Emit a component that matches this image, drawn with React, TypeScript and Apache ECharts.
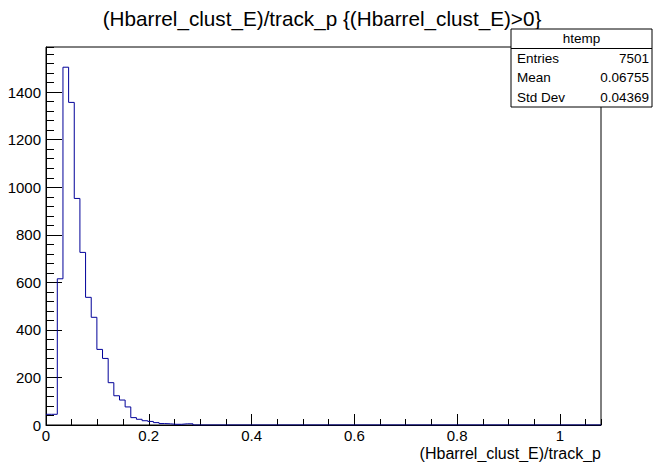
import React, { useEffect, useRef } from "react";
import * as echarts from "echarts";

// ---- data ----
const BIN_WIDTH = 0.011;
const binCounts = [
  45, 45, 615, 1505, 1357, 953, 726, 537, 453, 318, 280, 178, 123, 105, 76,
  31, 24, 18, 15, 10, 6, 5, 3, 3, 5, 5,
];
const xTickLabels = ["0", "0.2", "0.4", "0.6", "0.8", "1"];
const yTickLabels = ["0", "200", "400", "600", "800", "1000", "1200", "1400"];
const statsTitle = "htemp";
const statsLabels = ["Entries", "Mean", "Std Dev"];
const statsValues = ["7501", "0.06755", "0.04369"];
const chartTitle = "(Hbarrel_clust_E)/track_p {(Hbarrel_clust_E)>0}";
const xAxisTitle = "(Hbarrel_clust_E)/track_p";

const X_MAX = 1.08;
const Y_MAX = 1590;
const FONT = '"Liberation Sans", Arial, Helvetica, sans-serif';

export default function App() {
  const ref = useRef<HTMLDivElement>(null);

  useEffect(() => {
    if (!ref.current) return;
    const chart = echarts.init(ref.current, undefined, { renderer: "svg" });

    const points: number[][] = binCounts.map((c, i) => [i * BIN_WIDTH, c]);
    points.push([binCounts.length * BIN_WIDTH, 0]);
    points.push([X_MAX, 0]);

    const gridLeft = 46;
    const gridRight = 601;
    const gridTop = 47;
    const gridBottom = 425;

    const boxX = 511;
    const boxY = 29;
    const boxW = 141;
    const boxH = 78;
    const rowH = boxH / 4;

    const statsGraphics: any[] = [
      {
        type: "rect",
        shape: { x: boxX, y: boxY, width: boxW, height: boxH },
        style: { fill: "#fff", stroke: "#000", lineWidth: 1 },
        z: 10,
      },
      {
        type: "line",
        shape: { x1: boxX, y1: boxY + rowH, x2: boxX + boxW, y2: boxY + rowH },
        style: { stroke: "#000", lineWidth: 1 },
        z: 11,
      },
      {
        type: "text",
        x: boxX + boxW / 2,
        y: boxY + rowH / 2,
        style: {
          text: statsTitle,
          font: `13.5px ${FONT}`,
          fill: "#000",
          align: "center",
          verticalAlign: "middle",
        },
        z: 11,
      },
    ];
    statsLabels.forEach((lab, i) => {
      const cy = boxY + rowH * (i + 1.5);
      statsGraphics.push({
        type: "text",
        x: boxX + 6,
        y: cy,
        style: { text: lab, font: `13.5px ${FONT}`, fill: "#000", align: "left", verticalAlign: "middle" },
        z: 11,
      });
      statsGraphics.push({
        type: "text",
        x: boxX + boxW - 3,
        y: cy,
        style: { text: statsValues[i], font: `13.5px ${FONT}`, fill: "#000", align: "right", verticalAlign: "middle" },
        z: 11,
      });
    });

    chart.setOption({
      animation: false,
      backgroundColor: "#fff",
      grid: {
        left: gridLeft,
        right: 654 - gridRight,
        top: gridTop,
        bottom: 462 - gridBottom,
        show: true,
        borderColor: "#000",
        borderWidth: 1,
        backgroundColor: "transparent",
      },
      xAxis: [
        {
          type: "value",
          min: 0,
          max: X_MAX,
          interval: 0.2,
          axisLine: { show: true, lineStyle: { color: "#000", width: 1 } },
          axisTick: { show: true, inside: true, length: 11, lineStyle: { color: "#000" } },
          axisLabel: {
            show: true,
            showMaxLabel: false,
            margin: 3,
            color: "#000",
            fontFamily: FONT,
            fontSize: 15,
            formatter: (v: number) => {
              const idx = Math.round(v / 0.2);
              return Math.abs(v - idx * 0.2) < 1e-6 && xTickLabels[idx] !== undefined ? xTickLabels[idx] : "";
            },
          },
          splitLine: { show: false },
        },
        {
          type: "value",
          position: "bottom",
          min: 0,
          max: X_MAX,
          interval: 0.05,
          axisLine: { show: false },
          axisTick: { show: true, inside: true, length: 6, lineStyle: { color: "#000" } },
          axisLabel: { show: false },
          splitLine: { show: false },
        },
      ],
      yAxis: [
        {
          type: "value",
          min: 0,
          max: Y_MAX,
          interval: 200,
          axisLine: { show: true, lineStyle: { color: "#000", width: 1 } },
          axisTick: { show: true, inside: true, length: 16, lineStyle: { color: "#000" } },
          axisLabel: {
            show: true,
            showMaxLabel: false,
            margin: 5,
            color: "#000",
            fontFamily: FONT,
            fontSize: 15,
            formatter: (v: number) => {
              const idx = Math.round(v / 200);
              return Math.abs(v - idx * 200) < 1e-6 && yTickLabels[idx] !== undefined ? yTickLabels[idx] : "";
            },
          },
          splitLine: { show: false },
        },
        {
          type: "value",
          position: "left",
          min: 0,
          max: Y_MAX,
          interval: 40,
          axisLine: { show: false },
          axisTick: { show: true, inside: true, length: 8, lineStyle: { color: "#000" } },
          axisLabel: { show: false },
          splitLine: { show: false },
        },
      ],
      series: [
        {
          type: "line",
          xAxisIndex: 0,
          yAxisIndex: 0,
          data: points,
          step: "end",
          showSymbol: false,
          symbol: "none",
          clip: true,
          lineStyle: { color: "#000099", width: 1 },
          z: 5,
        },
      ],
      graphic: [
        {
          type: "text",
          x: 322,
          y: 18,
          style: {
            text: chartTitle,
            font: `20.7px ${FONT}`,
            fill: "#000",
            align: "center",
            verticalAlign: "middle",
          },
        },
        {
          type: "text",
          x: gridRight,
          y: 453,
          style: {
            text: xAxisTitle,
            font: `16px ${FONT}`,
            fill: "#000",
            align: "right",
            verticalAlign: "middle",
          },
        },
        ...statsGraphics,
      ],
    });

    return () => chart.dispose();
  }, []);

  return (
    <div
      ref={ref}
      style={{ position: "fixed", left: 0, top: 0, width: 654, height: 462 }}
    />
  );
}
